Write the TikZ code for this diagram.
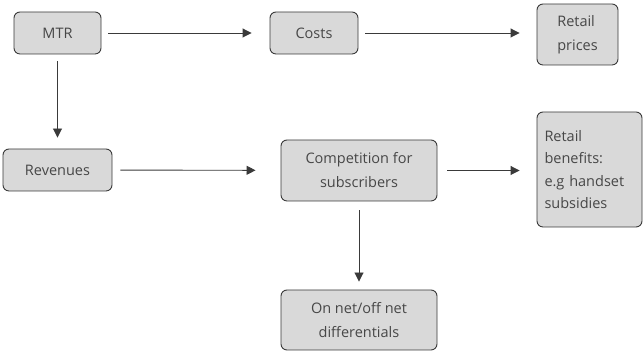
\documentclass[tikz,border=0pt]{standalone}
\usepackage{fontspec}
\setmainfont{Open Sans}
\usetikzlibrary{arrows.meta}
\definecolor{boxgray}{HTML}{D9D9D9}
\definecolor{linegray}{HTML}{3A3A3A}
\begin{document}
\begin{tikzpicture}[x=1pt,y=1pt,
  box/.style={draw=linegray,fill=boxgray,rounded corners=6pt,line width=0.9pt,
    align=center,text=black!72,font=\fontsize{14.5}{24}\selectfont,inner sep=0pt},
  arr/.style={draw=linegray,line width=0.9pt,-{Triangle[length=9pt,width=9pt]}}]
\useasboundingbox (0,0) rectangle (643,352);

\node[box,minimum width=87,minimum height=42] (mtr) at (57.5,319) {MTR};
\node[box,minimum width=88,minimum height=42] (costs) at (314,319) {Costs};
\node[box,minimum width=81,minimum height=61,align=left] (prices) at (577.5,317.5) {Retail\\prices};
\node[box,minimum width=109,minimum height=42] (rev) at (57.5,182) {Revenues};
\node[box,minimum width=156,minimum height=61] (comp) at (359,181.5) {Competition for\\subscribers};
\node[box,text width=90,inner xsep=7.5pt,minimum height=115,align=left,
  font=\fontsize{14.5}{22.5}\selectfont] (benefits) at (589.5,182.5) {Retail\\benefits:\\e.g handset\\subsidies};
\node[box,minimum width=156,minimum height=60] (onnet) at (359,32) {On net/off net\\differentials};

\draw[arr,shorten <=7pt,shorten >=18pt] (mtr) -- (costs);
\draw[arr,shorten <=7pt,shorten >=17pt] (costs.east) -- (costs.east -| prices.west);
\draw[arr,shorten <=7pt,shorten >=11pt] (mtr) -- (rev);
\draw[arr,shorten <=8pt,shorten >=25pt] (rev) -- (comp);
\draw[arr,shorten <=10pt,shorten >=17pt] (comp) -- (comp -| benefits.west);
\draw[arr,shorten <=9pt,shorten >=8pt] (comp) -- (onnet);

\end{tikzpicture}
\end{document}
